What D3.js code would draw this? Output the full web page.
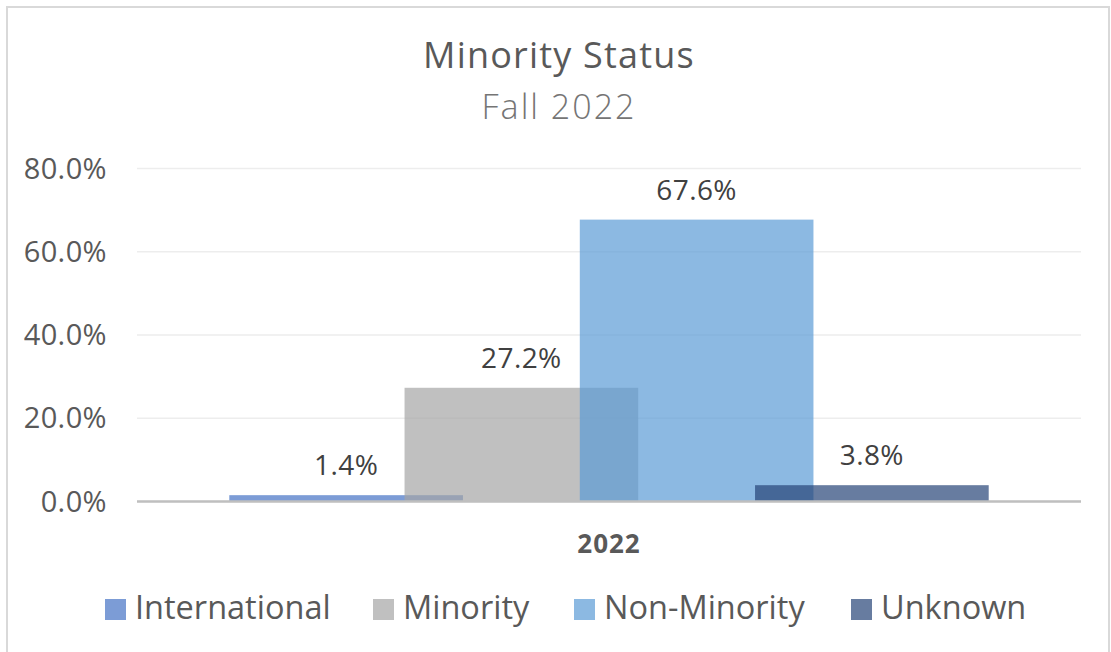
<!DOCTYPE html>
<html>
<head>
<meta charset="utf-8">
<script src="https://cdn.jsdelivr.net/npm/d3@7"></script>
<style>
  body { margin: 0; background: #fff; }
  svg text { font-family: "Segoe UI", "Open Sans", "Noto Sans", sans-serif; }
</style>
</head>
<body>
<script>
width  = 1111
height = 652

// chart data
const categories = ["2022"];
const series = ["International", "Minority", "Non-Minority", "Unknown"];
const values = [1.4, 27.2, 67.6, 3.8];
const colors = ["#4472c4", "#a5a5a5", "#5b9bd5", "#264478"];
const yTicks = [0, 20, 40, 60, 80];

// excel-ish bar layout
const gapWidth = 0.79, overlap = 0.25;

const margin = {left: 137, right: 30, top: 168, bottom: 151};

const svg = d3.select('body').append('svg')
  .attr('width', width)
  .attr('height', height);

// chart border (bottom edge runs off the picture)
svg.append("rect")
  .attr("x", 7).attr("y", 7)
  .attr("width", 1102).attr("height", 660)
  .attr("fill", "#fff")
  .attr("stroke", "#d9d9d9")
  .attr("stroke-width", 2);

const y = d3.scaleLinear()
  .domain([0, 80])
  .range([height - margin.bottom, margin.top]);

const x0 = d3.scaleBand()
  .domain(categories)
  .range([margin.left, width - margin.right]);

const n = series.length;
const barW = x0.bandwidth() / (gapWidth + 1 + (n - 1) * (1 - overlap));
const step = barW * (1 - overlap);
const x1 = d3.scaleLinear()
  .domain([0, n - 1])
  .range([barW * gapWidth / 2, barW * gapWidth / 2 + (n - 1) * step]);

// gridlines
svg.append("g")
  .attr("transform", `translate(${margin.left},0)`)
  .call(d3.axisLeft(y).tickValues(yTicks).tickSize(-(width - margin.left - margin.right)).tickFormat(""))
  .call(g => g.select(".domain").remove())
  .call(g => g.selectAll("line").attr("stroke", "#ededed").attr("stroke-width", 1.5));

// y labels
svg.append("g")
  .attr("transform", `translate(107,0)`)
  .call(d3.axisLeft(y).tickValues(yTicks).tickSize(0).tickPadding(0).tickFormat(d => d.toFixed(1) + "%"))
  .call(g => g.select(".domain").remove())
  .call(g => g.selectAll("text")
    .attr("fill", "#595959")
    .style("font-size", "29px")
    .style("letter-spacing", "0.4px")
    .attr("dy", "0.35em"));

// bars
const rows = series.map((s, i) => ({name: s, value: values[i], color: colors[i], i: i}));

const cat = svg.append("g")
  .attr("transform", `translate(${x0(categories[0])},0)`);

cat.selectAll("rect")
  .data(rows)
  .enter().append("rect")
    .attr("x", d => x1(d.i))
    .attr("y", d => y(d.value))
    .attr("width", barW)
    .attr("height", d => y(0) - y(d.value))
    .attr("fill", d => d.color)
    .attr("fill-opacity", 0.7);

// baseline
svg.append("line")
  .attr("x1", margin.left).attr("x2", width - margin.right)
  .attr("y1", y(0) + 0.5).attr("y2", y(0) + 0.5)
  .attr("stroke", "#bfbfbf")
  .attr("stroke-width", 2.5);

// data labels
cat.selectAll("text.lbl")
  .data(rows)
  .enter().append("text")
    .attr("class", "lbl")
    .attr("x", d => x1(d.i) + barW / 2)
    .attr("y", d => y(d.value) - 20)
    .attr("text-anchor", "middle")
    .attr("fill", "#404040")
    .style("font-size", "28px")
    .style("letter-spacing", "0.4px")
    .text(d => d.value.toFixed(1) + "%");

// category label
svg.append("text")
  .attr("x", x0(categories[0]) + x0.bandwidth() / 2)
  .attr("y", 553)
  .attr("text-anchor", "middle")
  .attr("fill", "#595959")
  .style("font-size", "26px")
  .style("letter-spacing", "1px")
  .style("font-weight", "bold")
  .text(categories[0]);

// title
svg.append("text")
  .attr("x", 559).attr("y", 68)
  .attr("text-anchor", "middle")
  .attr("fill", "#595959")
  .style("font-size", "36px")
  .style("letter-spacing", "1.2px")
  .text("Minority Status");

svg.append("text")
  .attr("x", 559).attr("y", 119)
  .attr("text-anchor", "middle")
  .attr("fill", "#757575")
  .style("font-size", "34px")
  .style("letter-spacing", "2px")
  .style("font-weight", 300)
  .text("Fall 2022");

// legend
const legendX = [105, 373, 574, 851];
const legend = svg.append("g");
const item = legend.selectAll("g")
  .data(rows)
  .enter().append("g")
    .attr("transform", d => `translate(${legendX[d.i]},599)`);

item.append("rect")
  .attr("width", 21).attr("height", 21)
  .attr("fill", d => d.color)
  .attr("fill-opacity", 0.7);

item.append("text")
  .attr("x", 30).attr("y", 20)
  .attr("fill", "#595959")
  .style("font-size", "32.5px")
  .text(d => d.name);
</script>
</body>
</html>
